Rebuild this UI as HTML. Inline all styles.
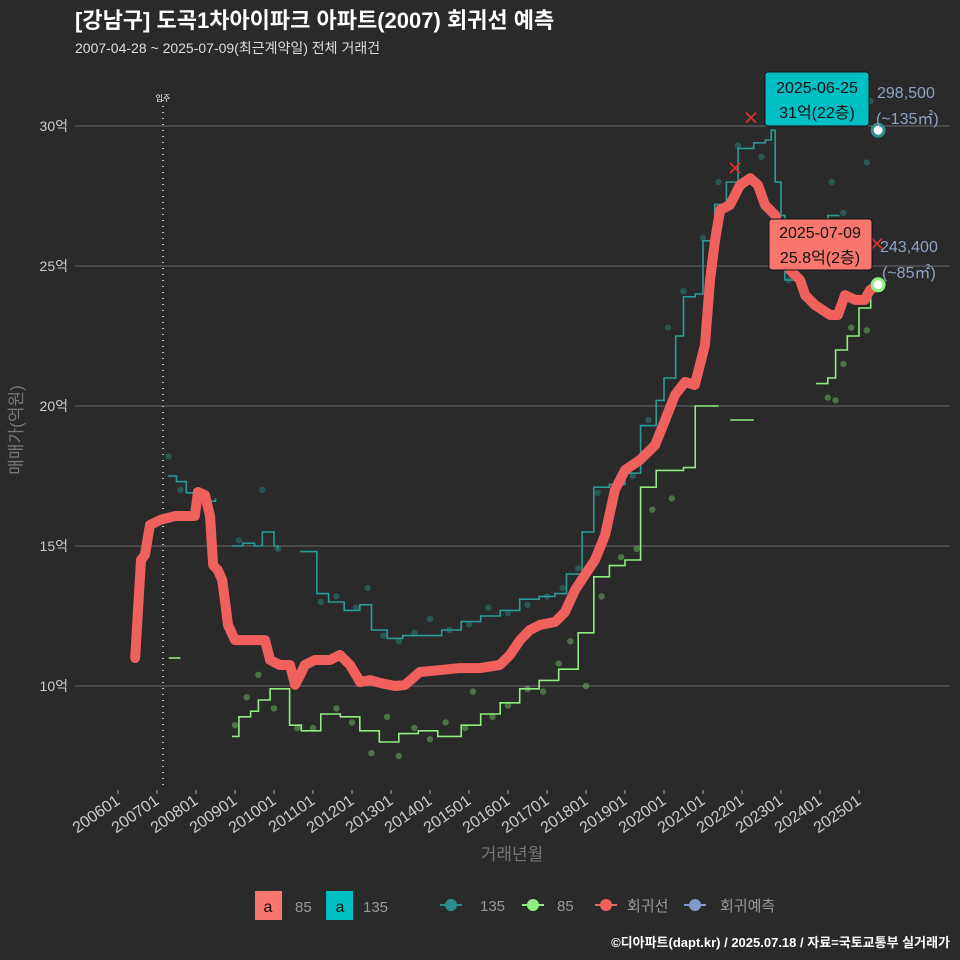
<!DOCTYPE html>
<html><head><meta charset="utf-8">
<style>
html,body{margin:0;padding:0;background:#2a2a2a;}
svg{display:block;font-family:"Liberation Sans","Noto Sans CJK KR",sans-serif;}
</style></head>
<body>
<svg id="chart" width="960" height="960" viewBox="0 0 960 960">
<rect x="0" y="0" width="960" height="960" fill="#2a2a2a"/>
<text x="75" y="28" fill="#ffffff" font-size="22" font-weight="bold">[강남구] 도곡1차아이파크 아파트(2007) 회귀선 예측</text>
<text x="75" y="53" fill="#dddddd" font-size="14">2007-04-28 ~ 2025-07-09(최근계약일) 전체 거래건</text>
<g id="grid"></g>
<g id="yticks"></g>
<g id="xticks"></g>
<line x1="163" y1="100" x2="163" y2="790" stroke="#bbbbbb" stroke-width="2" stroke-dasharray="1,5"/>
<text x="163" y="101" fill="#ffffff" font-size="8" text-anchor="middle">입주</text>
<g id="dots"></g>
<g id="lines"></g>
<text transform="translate(22,430) rotate(-90)" fill="#777777" font-size="17" text-anchor="middle">매매가(억원)</text>
<text x="512" y="860" fill="#777777" font-size="17" text-anchor="middle">거래년월</text>
<g>
<rect x="765" y="72" width="104" height="54" rx="3" fill="#00bfc4" stroke="#111"/>
<text x="817" y="93" font-size="16" text-anchor="middle" fill="#111">2025-06-25</text>
<text x="817" y="118" font-size="16" text-anchor="middle" fill="#111">31억(22층)</text>
<text x="877" y="98" font-size="16" fill="#8fa3c6">298,500</text>
<text x="876" y="124" font-size="16" fill="#8fa3c6">(~135㎡)</text>
</g>
<g>
<rect x="769" y="219" width="103" height="51" rx="3" fill="#f8766d" stroke="#111"/>
<text x="820" y="238" font-size="16" text-anchor="middle" fill="#111">2025-07-09</text>
<text x="820" y="263" font-size="16" text-anchor="middle" fill="#111">25.8억(2층)</text>
<text x="880" y="252" font-size="16" fill="#8fa3c6">243,400</text>
<text x="882" y="278" font-size="16" fill="#8fa3c6">(~85㎡)</text>
</g>
<g>
<rect x="255" y="891" width="27" height="29" fill="#f8766d"/>
<text x="268" y="912" font-size="16" text-anchor="middle" fill="#111">a</text>
<text x="295" y="912" font-size="15" fill="#999">85</text>
<rect x="326" y="891" width="27" height="29" fill="#00bfc4"/>
<text x="340" y="912" font-size="16" text-anchor="middle" fill="#111">a</text>
<text x="363" y="912" font-size="15" fill="#999">135</text>
<line x1="440" y1="905" x2="462" y2="905" stroke="#2a8f8c" stroke-width="2"/><circle cx="451" cy="905" r="6" fill="#2a8f8c"/>
<text x="480" y="911" font-size="15" fill="#999">135</text>
<line x1="522" y1="905" x2="544" y2="905" stroke="#90ee80" stroke-width="2"/><circle cx="533" cy="905" r="6" fill="#90ee80"/>
<text x="557" y="911" font-size="15" fill="#999">85</text>
<line x1="595" y1="905" x2="617" y2="905" stroke="#f0605d" stroke-width="2"/><circle cx="606" cy="905" r="6" fill="#f0605d"/>
<text x="627" y="911" font-size="15" fill="#999">회귀선</text>
<line x1="684" y1="905" x2="706" y2="905" stroke="#7f9bc8" stroke-width="2"/><circle cx="695" cy="905" r="6" fill="#7f9bc8"/>
<text x="720" y="911" font-size="15" fill="#999">회귀예측</text>
</g>
<text x="950" y="947" font-size="13" font-weight="bold" fill="#ffffff" text-anchor="end">©디아파트(dapt.kr) / 2025.07.18 / 자료=국토교통부 실거래가</text>
</svg>
<script>
const yTickValues=[10,15,20,25,30];
const yTickLabels=["10억","15억","20억","25억","30억"];
const xTickYears=[2006,2007,2008,2009,2010,2011,2012,2013,2014,2015,2016,2017,2018,2019,2020,2021,2022,2023,2024,2025];
const xTickLabels=["200601","200701","200801","200901","201001","201101","201201","201301","201401","201501","201601","201701","201801","201901","202001","202101","202201","202301","202401","202501"];
const regYears=[2006.44,2006.59,2006.69,2006.82,2007.08,2007.46,2007.97,2008.05,2008.23,2008.36,2008.44,2008.56,2008.67,2008.74,2008.82,2009.0,2009.13,2009.77,2009.9,2010.15,2010.41,2010.54,2010.67,2010.79,2011.05,2011.44,2011.69,2011.95,2012.21,2012.46,2012.72,2013.1,2013.36,2013.74,2014.26,2014.77,2015.28,2015.79,2016.05,2016.31,2016.56,2016.82,2017.21,2017.46,2017.72,2017.97,2018.23,2018.49,2018.74,2019.0,2019.38,2019.77,2020.03,2020.28,2020.54,2020.79,2021.05,2021.18,2021.31,2021.44,2021.69,2021.95,2022.21,2022.41,2022.59,2022.85,2023.1,2023.23,2023.49,2023.62,2023.87,2024.26,2024.46,2024.64,2024.9,2025.15,2025.28,2025.49];
const regValues=[11.0,14.5,14.68,15.75,15.93,16.07,16.07,16.93,16.82,16.07,14.32,14.14,13.79,13.07,12.18,11.64,11.64,11.64,10.93,10.75,10.75,10.04,10.39,10.75,10.93,10.93,11.11,10.75,10.14,10.21,10.11,10.0,10.04,10.5,10.57,10.64,10.64,10.75,11.11,11.64,12.0,12.18,12.29,12.64,13.43,13.96,14.5,15.39,17.0,17.71,18.07,18.6,19.5,20.39,20.86,20.75,22.18,24.5,25.93,27.0,27.18,27.89,28.14,27.89,27.18,26.82,25.57,24.86,24.5,23.96,23.61,23.25,23.25,23.96,23.79,23.79,24.14,24.32];
const teal1Years=[2007.28,2007.5,2007.75,2008.0,2008.5];
const teal1Values=[17.5,17.3,16.9,16.6,16.7];
const teal2Years=[2008.92,2009.2,2009.5,2009.7,2009.9,2010.0,2010.1];
const teal2Values=[15.0,15.1,15.0,15.5,15.5,15.0,14.9];
const teal3Years=[2010.67,2011.05,2011.1,2011.4,2011.8,2012.2,2012.5,2012.9,2013.3,2013.8,2014.3,2014.8,2015.3,2015.8,2016.3,2016.8,2017.2,2017.5,2017.9,2018.2,2018.6,2019.0,2019.4,2019.8,2020.0,2020.3,2020.5,2020.8,2021.0,2021.3,2021.6,2021.9,2022.3,2022.6,2022.75,2022.85,2023.0,2023.1,2023.4,2023.7,2024.2,2024.5];
const teal3Values=[14.8,14.8,13.3,13.0,12.7,12.9,12.0,11.7,11.8,11.8,12.0,12.3,12.5,12.7,13.1,13.2,13.3,14.0,15.5,17.1,17.2,17.6,19.3,20.2,21.0,22.5,23.9,24.0,25.9,27.2,28.0,29.2,29.4,29.5,29.85,28.0,26.8,24.5,24.9,25.8,26.8,26.8];
const green1Years=[2007.3,2007.6];
const green1Values=[11.0,11.0];
const green2Years=[2008.92,2009.1,2009.4,2009.6,2009.9,2010.15,2010.4,2010.7,2011.2,2011.7,2012.2,2012.7,2013.2,2013.7,2014.2,2014.8,2015.3,2015.8,2016.3,2016.8,2017.3,2017.8,2018.2,2018.6,2019.0,2019.4,2019.8,2020.5,2020.8,2021.4];
const green2Values=[8.2,8.9,9.1,9.5,9.9,9.9,8.6,8.4,9.0,8.9,8.4,8.0,8.3,8.4,8.2,8.6,9.0,9.4,9.9,10.2,10.6,11.9,13.9,14.3,14.5,17.1,17.7,17.8,20.0,20.0];
const green3Years=[2021.7,2022.3];
const green3Values=[19.5,19.5];
const green4Years=[2023.9,2024.2,2024.4,2024.7,2025.0,2025.3,2025.49];
const green4Values=[20.8,21.0,22.0,22.5,23.5,24.3,24.33];
const tealDotYears=[2007.3,2007.6,2008.1,2009.1,2009.7,2010.1,2011.2,2011.6,2012.1,2012.4,2012.8,2013.2,2013.6,2014.0,2014.5,2015.0,2015.5,2016.0,2016.5,2017.0,2017.4,2017.8,2018.3,2018.8,2019.2,2019.6,2020.1,2020.5,2021.0,2021.4,2021.9,2022.5,2023.2,2023.8,2024.3,2024.6,2025.2,2025.3];
const tealDotValues=[18.2,17.0,16.8,15.2,17.0,14.9,13.0,13.2,12.8,13.5,11.8,11.6,11.9,12.4,12.0,12.2,12.8,12.6,12.9,13.2,13.5,14.2,16.9,17.0,17.5,19.5,22.8,24.1,26.0,28.0,29.3,28.9,24.5,25.0,28.0,26.9,28.7,30.9];
const greenDotYears=[2009.0,2009.3,2009.6,2010.0,2010.6,2011.0,2011.6,2012.0,2012.5,2012.9,2013.2,2013.6,2014.0,2014.4,2014.9,2015.1,2015.6,2016.0,2016.5,2016.9,2017.3,2017.6,2018.0,2018.4,2018.9,2019.3,2019.7,2020.2,2024.2,2024.4,2024.6,2024.8,2025.2];
const greenDotValues=[8.6,9.6,10.4,9.2,8.5,8.5,9.2,8.7,7.6,8.9,7.5,8.5,8.1,8.7,8.5,9.8,8.9,9.3,9.9,9.8,10.8,11.6,10.0,13.2,14.6,14.9,16.3,16.7,20.3,20.2,21.5,22.8,22.7];
const redCrossYears=[2021.82,2022.23,2025.46];
const redCrossValues=[28.5,30.3,25.8];
const endYears=[2025.49,2025.49];
const endValues=[29.85,24.33];
const endColors=["#2a8f8c","#90ee80"];

const NS="http://www.w3.org/2000/svg";
const xs=y=>118+(y-2006)*39;
const ys=v=>686-(v-10)*28;
function mk(tag,attrs,parent){const e=document.createElementNS(NS,tag);for(const k in attrs)e.setAttribute(k,attrs[k]);parent.appendChild(e);return e;}
const grid=document.getElementById('grid'),yt=document.getElementById('yticks'),xt=document.getElementById('xticks'),dots=document.getElementById('dots'),lines=document.getElementById('lines');
yTickValues.forEach((v,i)=>{
 const l=mk('line',{x1:75,x2:950,y1:ys(v),y2:ys(v),stroke:'#6b6b6b','stroke-width':1},grid);
 
 
 const t=mk('text',{x:68,y:ys(v)+5,fill:'#cccccc','font-size':14,'text-anchor':'end'},yt);
 t.textContent=yTickLabels[i];
 
 
});
xTickYears.forEach((y,i)=>{
 const x=xs(y);
 const tk=mk('line',{x1:x,x2:x,y1:790,y2:794,stroke:'#aaaaaa'},xt);
 
 
 const t=mk('text',{x:x+3,y:803,fill:'#cccccc','font-size':16,'text-anchor':'end',transform:`rotate(-35 ${x+3} 803)`},xt);
 t.textContent=xTickLabels[i];
 
 
});
function pts(a,b){return a.map((y,i)=>xs(y)+','+ys(b[i])).join(' ');}
function step(a,b){let s=[];a.forEach((y,i)=>{if(i>0)s.push(xs(y)+','+ys(b[i-1]));s.push(xs(y)+','+ys(b[i]));});return s.join(' ');}
tealDotYears.forEach((y,i)=>{const c=mk('circle',{cx:xs(y),cy:ys(tealDotValues[i]),r:3.2,fill:'#2a8f8c','fill-opacity':0.45},dots);
 
 });
greenDotYears.forEach((y,i)=>{const c=mk('circle',{cx:xs(y),cy:ys(greenDotValues[i]),r:3.2,fill:'#7ccc6c','fill-opacity':0.45},dots);
 
 });
[[teal1Years,teal1Values],[teal2Years,teal2Values],[teal3Years,teal3Values]].forEach(([a,b])=>{
 const p=mk('polyline',{points:step(a,b),fill:'none',stroke:'#2a9b98','stroke-width':1.6},lines);
 
 });
[[green1Years,green1Values],[green2Years,green2Values],[green3Years,green3Values],[green4Years,green4Values]].forEach(([a,b])=>{
 const p=mk('polyline',{points:step(a,b),fill:'none',stroke:'#90ee80','stroke-width':1.6},lines);
 
 });
const reg=mk('polyline',{points:pts(regYears,regValues),fill:'none',stroke:'#f0605d','stroke-width':10,'stroke-linejoin':'round','stroke-linecap':'round'},lines);


redCrossYears.forEach((y,i)=>{const x=xs(y),yy=ys(redCrossValues[i]);
 const p=mk('path',{d:`M${x-5},${yy-5}L${x+5},${yy+5}M${x+5},${yy-5}L${x-5},${yy+5}`,stroke:'#d9302c','stroke-width':1.8},lines);
 
 });
endYears.forEach((y,i)=>{const c=mk('circle',{cx:xs(y),cy:ys(endValues[i]),r:6,fill:'#ffffff',stroke:endColors[i],'stroke-width':3},lines);
 
 });
</script>
</body></html>
